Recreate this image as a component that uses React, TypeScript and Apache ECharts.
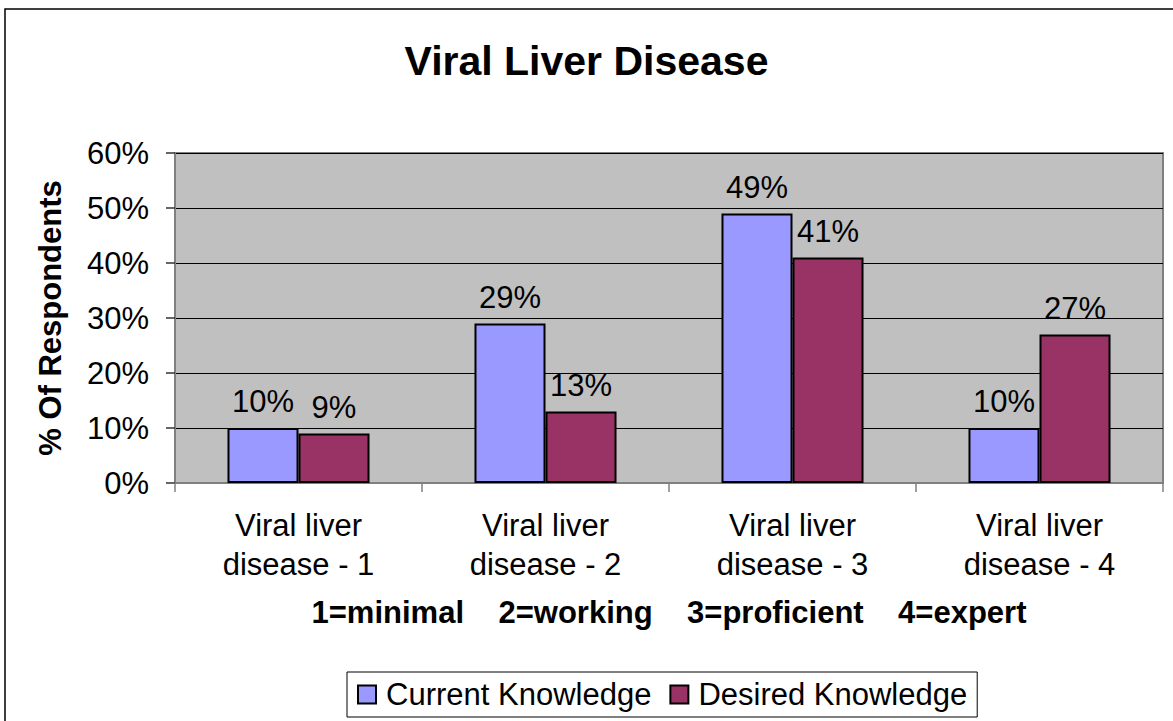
import React, { useEffect, useRef } from "react";
import * as echarts from "echarts";

const categories = [
  "Viral liver\ndisease - 1",
  "Viral liver\ndisease - 2",
  "Viral liver\ndisease - 3",
  "Viral liver\ndisease - 4",
];
const currentKnowledge = [10, 29, 49, 10];
const desiredKnowledge = [9, 13, 41, 27];
const yTicks = [0, 10, 20, 30, 40, 50, 60];
const seriesNames = ["Current Knowledge", "Desired Knowledge"];
const titleText = "Viral Liver Disease";
const xAxisTitle = "1=minimal    2=working    3=proficient    4=expert";
const yAxisTitle = "% Of Respondents";

const FONT = "'Liberation Sans', Arial, sans-serif";

export default function App() {
  const ref = useRef<HTMLDivElement>(null);
  useEffect(() => {
    if (!ref.current) return;
    const chart = echarts.init(ref.current, null, { renderer: "svg" });
    const labelCfg = {
      show: true,
      position: "top" as const,
      distance: 11,
      formatter: "{c}%",
      color: "#000",
      fontSize: 31,
      fontFamily: FONT,
    };
    chart.setOption({
      animation: false,
      backgroundColor: "#fff",
      textStyle: { fontFamily: FONT },
      title: {
        text: titleText,
        left: "center",
        top: 35,
        textStyle: { fontSize: 41, fontWeight: "bold", color: "#000", fontFamily: FONT },
      },
      graphic: [
        {
          type: "rect",
          shape: { x: 5, y: 9, width: 1300, height: 900 },
          style: { fill: "none", stroke: "#000", lineWidth: 1.5 },
          silent: true,
          z: -10,
        },
      ],
      legend: {
        data: seriesNames,
        left: 347,
        top: 672,
        orient: "horizontal",
        itemWidth: 18,
        itemHeight: 18,
        itemGap: 18,
        padding: [7, 10, 7, 10],
        borderColor: "#000",
        borderWidth: 1,
        icon: "rect",
        textStyle: { fontSize: 31, color: "#000", fontFamily: FONT, padding: [0, 0, 0, 5] },
      },
      grid: {
        left: 175,
        top: 153,
        right: 10,
        bottom: 238,
        show: true,
        backgroundColor: "#C0C0C0",
        borderColor: "#808080",
        borderWidth: 2,
        containLabel: false,
      },
      xAxis: {
        type: "category",
        data: categories,
        name: xAxisTitle,
        nameLocation: "middle",
        nameGap: 114,
        nameTextStyle: { fontSize: 31, fontWeight: "bold", color: "#000", fontFamily: FONT },
        axisLine: { show: true, lineStyle: { color: "#808080", width: 2 } },
        axisTick: { show: true, length: 9, lineStyle: { color: "#808080", width: 1.5 } },
        axisLabel: {
          fontSize: 31,
          lineHeight: 39,
          margin: 23,
          color: "#000",
          fontFamily: FONT,
          interval: 0,
        },
        splitLine: { show: false },
      },
      yAxis: {
        type: "value",
        min: yTicks[0],
        max: yTicks[yTicks.length - 1],
        interval: 10,
        name: yAxisTitle,
        nameLocation: "middle",
        nameGap: 109,
        nameTextStyle: { fontSize: 31, fontWeight: "bold", color: "#000", fontFamily: FONT },
        axisLine: { show: true, lineStyle: { color: "#808080", width: 2 } },
        axisTick: { show: true, length: 9, lineStyle: { color: "#333", width: 1.5 } },
        axisLabel: {
          formatter: "{value}%",
          fontSize: 31,
          margin: 26,
          color: "#000",
          fontFamily: FONT,
        },
        splitLine: { show: true, lineStyle: { color: "#000", width: 1 } },
      },
      series: [
        {
          name: seriesNames[0],
          type: "bar",
          data: currentKnowledge,
          barGap: "0%",
          barCategoryGap: "42.5%",
          itemStyle: { color: "#9999FF", borderColor: "#000", borderWidth: 2 },
          label: labelCfg,
        },
        {
          name: seriesNames[1],
          type: "bar",
          data: desiredKnowledge,
          barGap: "0%",
          barCategoryGap: "42.5%",
          itemStyle: { color: "#993366", borderColor: "#000", borderWidth: 2 },
          label: labelCfg,
        },
      ],
    });
    return () => chart.dispose();
  }, []);
  return (
    <div
      ref={ref}
      style={{ position: "absolute", left: 0, top: 0, width: 1173, height: 721 }}
    />
  );
}
